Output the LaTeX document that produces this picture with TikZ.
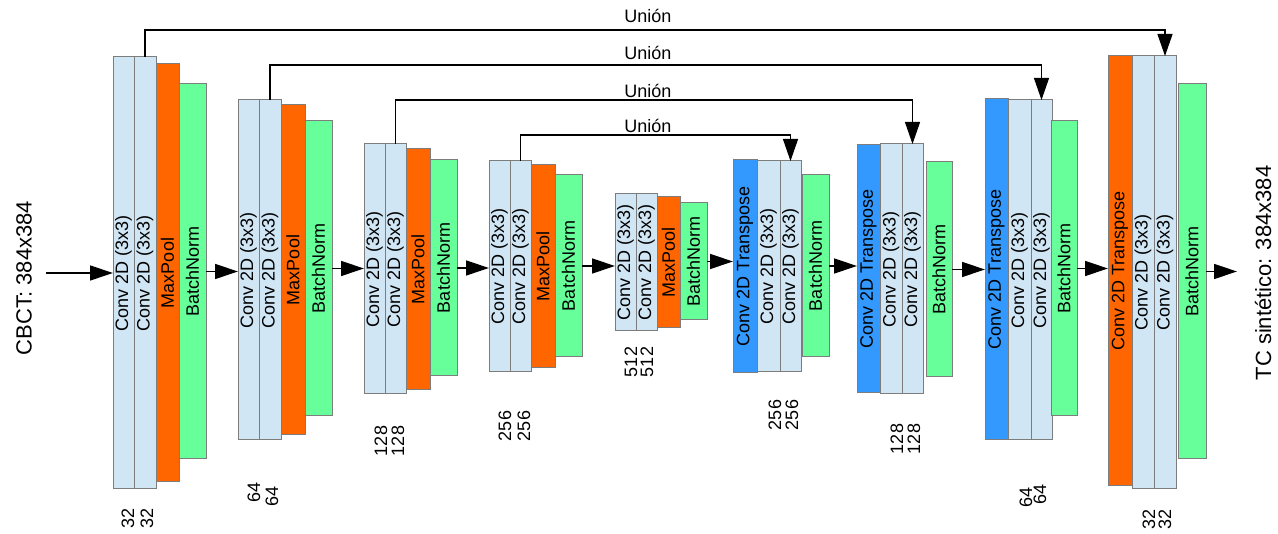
\documentclass[tikz,border=0pt]{standalone}
\usepackage{fontspec}
\setmainfont{Liberation Sans}
\usetikzlibrary{arrows.meta}
\definecolor{convc}{RGB}{208,230,245}
\definecolor{poolc}{RGB}{255,102,0}
\definecolor{bnc}{RGB}{102,255,153}
\definecolor{trc}{RGB}{51,153,255}
\definecolor{edgec}{RGB}{125,125,125}
\newcommand\lay[7]{%
  \pgfmathsetmacro\lw{#5-#3}\pgfmathsetmacro\lh{#6-#4}%
  \pgfmathsetmacro\lx{(#3+#5)/2}\pgfmathsetmacro\ly{(#4+#6)/2}%
  \node[#2, minimum width=\lw pt, minimum height=\lh pt] (#1) at (\lx,\ly) {\rotatebox{90}{#7}};}
\begin{document}
\begin{tikzpicture}[x=1pt,y=-1pt,
  lay/.style={draw=edgec, line width=1pt, inner sep=0pt, outer sep=0pt, font=\fontsize{18}{18}\selectfont},
  conv/.style={lay, fill=convc},
  pool/.style={lay, fill=poolc},
  bn/.style={lay, fill=bnc},
  tr/.style={lay, fill=trc},
  arr/.style={line width=1.3pt, -{Triangle[length=23pt,width=15pt]}},
  uarr/.style={line width=1.1pt, -{Triangle[length=22pt,width=15pt]}},
  lbl/.style={font=\fontsize{18}{18}\selectfont, inner sep=0pt},
  num/.style={lbl, rotate=90},
  big/.style={font=\fontsize{22}{22}\selectfont, rotate=90, inner sep=0pt}]
\useasboundingbox (0,0) rectangle (1278,534);
\fill[white] (0,0) rectangle (1278,534);
% Block 1
\lay{b1c1}{conv}{113}{57}{134}{489}{Conv 2D (3x3)}
\lay{b1c2}{conv}{134}{57}{156}{489}{Conv 2D (3x3)}
\lay{b1mp}{pool}{156}{64}{179}{482}{MaxPool}
\lay{b1bn}{bn}{179}{84}{206}{459}{BatchNorm}
% Block 2
\lay{b2c1}{conv}{238}{100}{259}{440}{Conv 2D (3x3)}
\lay{b2c2}{conv}{259}{100}{281}{440}{Conv 2D (3x3)}
\lay{b2mp}{pool}{281}{105}{305}{435}{MaxPool}
\lay{b2bn}{bn}{305}{121}{332}{416}{BatchNorm}
% Block 3
\lay{b3c1}{conv}{364}{144}{385}{394}{Conv 2D (3x3)}
\lay{b3c2}{conv}{385}{144}{406}{394}{Conv 2D (3x3)}
\lay{b3mp}{pool}{406}{149}{430}{390}{MaxPool}
\lay{b3bn}{bn}{430}{160}{457}{376}{BatchNorm}
% Block 4
\lay{b4c1}{conv}{489}{161}{510}{372}{Conv 2D (3x3)}
\lay{b4c2}{conv}{510}{161}{531}{372}{Conv 2D (3x3)}
\lay{b4mp}{pool}{531}{165}{555}{368}{MaxPool}
\lay{b4bn}{bn}{555}{175}{582}{357}{BatchNorm}
% Block 5
\lay{b5c1}{conv}{615}{194}{636}{331}{Conv 2D (3x3)}
\lay{b5c2}{conv}{636}{194}{657}{331}{Conv 2D (3x3)}
\lay{b5mp}{pool}{657}{197}{680}{328}{MaxPool}
\lay{b5bn}{bn}{680}{203}{707}{320}{BatchNorm}
% Block 6
\lay{b6tr}{tr}{733}{160}{757}{373}{Conv 2D Transpose}
\lay{b6c1}{conv}{757}{161}{780}{372}{Conv 2D (3x3)}
\lay{b6c2}{conv}{780}{161}{801}{372}{Conv 2D (3x3)}
\lay{b6bn}{bn}{802}{175}{829}{357}{BatchNorm}
% Block 7
\lay{b7tr}{tr}{857}{145}{880}{393}{Conv 2D Transpose}
\lay{b7c1}{conv}{880}{144}{902}{394}{Conv 2D (3x3)}
\lay{b7c2}{conv}{902}{144}{923}{394}{Conv 2D (3x3)}
\lay{b7bn}{bn}{926}{162}{952}{377}{BatchNorm}
% Block 8
\lay{b8tr}{tr}{985}{99}{1008}{440}{Conv 2D Transpose}
\lay{b8c1}{conv}{1008}{100}{1031}{440}{Conv 2D (3x3)}
\lay{b8c2}{conv}{1031}{100}{1052}{440}{Conv 2D (3x3)}
\lay{b8bn}{bn}{1051}{121}{1077}{416}{BatchNorm}
% Block 9
\lay{b9tr}{pool}{1108}{56}{1132}{486}{Conv 2D Transpose}
\lay{b9c1}{conv}{1132}{56}{1154}{489}{Conv 2D (3x3)}
\lay{b9c2}{conv}{1154}{56}{1176}{489}{Conv 2D (3x3)}
\lay{b9bn}{bn}{1178}{84}{1206}{459}{BatchNorm}
% input / output labels
\node[big] (cbct) at (24,278) {CBCT: 384x384};
\node[big] (tcs) at (1263,273) {TC sintético: 384x384};
\coordinate (inp) at (46,273);
\coordinate (outp) at (1237,272);
% main arrows
\draw[arr] (inp) -- (inp -| b1c1.west);
\draw[arr] (b1bn.east) -- (b1bn.east -| b2c1.west);
\draw[arr] (b2bn.east) -- (b2bn.east -| b3c1.west);
\draw[arr] (b3bn.east) -- (b3bn.east -| b4c1.west);
\draw[arr] (b4bn.east) -- (b4bn.east -| b5c1.west);
\draw[arr] (b5bn.east) -- (b5bn.east -| b6tr.west);
\draw[arr] (b6bn.east) -- (b6bn.east -| b7tr.west);
\draw[arr] (b7bn.east) -- (b7bn.east -| b8tr.west);
\draw[arr] (b8bn.east) -- (b8bn.east -| b9tr.west);
\draw[arr] (b9bn.east) -- (b9bn.east -| outp);
% skip connections
\coordinate (l1) at (0,30);
\coordinate (l2) at (0,65);
\coordinate (l3) at (0,100);
\coordinate (l4) at (0,135);
\draw[uarr] (b1c2.north) |- (l1 -| b9c2.north) -- (b9c2.north);
\draw[uarr] (b2c2.north) |- (l2 -| b8c2.north) -- (b8c2.north);
\draw[uarr] (b3c2.north) |- (l3 -| b7c2.north) -- (b7c2.north);
\draw[uarr] (b4c2.north) |- (l4 -| b6c2.north) -- (b6c2.north);
\node[lbl, anchor=base] (u1) at (648,23) {Unión};
\node[lbl, anchor=base] (u2) at (648,60) {Unión};
\node[lbl, anchor=base] (u3) at (648,98) {Unión};
\node[lbl, anchor=base] (u4) at (648,133) {Unión};
% channel numbers
\node[num] (n1a) at (128,518) {32};
\node[num] (n1b) at (147,518) {32};
\node[num] (n2a) at (254,492) {64};
\node[num] (n2b) at (272,496) {64};
\node[num] (n3a) at (381,441) {128};
\node[num] (n3b) at (398,441) {128};
\node[num] (n4a) at (505,426) {256};
\node[num] (n4b) at (524,426) {256};
\node[num] (n5a) at (631,362) {512};
\node[num] (n5b) at (647,362) {512};
\node[num] (n6a) at (775,415) {256};
\node[num] (n6b) at (792,415) {256};
\node[num] (n7a) at (897,439) {128};
\node[num] (n7b) at (914,439) {128};
\node[num] (n8a) at (1026,497) {64};
\node[num] (n8b) at (1040,494) {64};
\node[num] (n9a) at (1149,519) {32};
\node[num] (n9b) at (1165,519) {32};
\end{tikzpicture}
\end{document}
